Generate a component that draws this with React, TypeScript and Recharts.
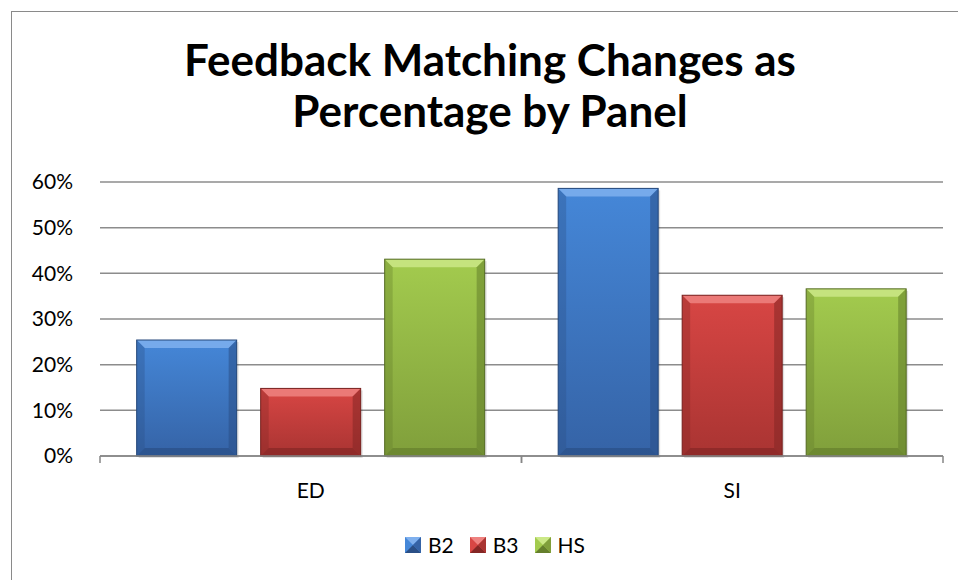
import React from 'react'
import { BarChart, Bar, XAxis, YAxis, CartesianGrid } from 'recharts'

const categories = ['ED', 'SI']
const b2Values = [0.254, 0.586]
const b3Values = [0.148, 0.352]
const hsValues = [0.431, 0.366]
const yTicks = [0, 0.1, 0.2, 0.3, 0.4, 0.5, 0.6]
const seriesNames = ['B2', 'B3', 'HS']

const chartData = categories.map((c, i) => ({
  panel: c,
  B2: b2Values[i],
  B3: b3Values[i],
  HS: hsValues[i],
}))

const palette: Record<string, { top: string; bottom: string; light: string; dark: string; edge: string }> = {
  B2: { top: '#4587d8', bottom: '#3563a6', light: '#7fb0ee', dark: '#2a4f86', edge: '#24477a' },
  B3: { top: '#d84644', bottom: '#a93432', light: '#ee8280', dark: '#842725', edge: '#772220' },
  HS: { top: '#a3cb4e', bottom: '#809f3b', light: '#cbe887', dark: '#657f2c', edge: '#556b25' },
}

const FONT = 'Lato, "Open Sans", sans-serif'

function BevelBar(props: any) {
  const { x, y, width: w, height: h, dataKey } = props
  if (!w || !h || h <= 0) return null
  const c = palette[dataKey]
  const b = Math.min(8, h / 2)
  const id = `g-${dataKey}-${Math.round(x)}`
  return (
    <g>
      <defs>
        <linearGradient id={id} x1="0" y1="0" x2="0" y2="1">
          <stop offset="0%" stopColor={c.top} />
          <stop offset="100%" stopColor={c.bottom} />
        </linearGradient>
      </defs>
      <rect x={x + 2} y={y + 2} width={w} height={h} fill="#000" opacity={0.12} />
      <rect x={x} y={y} width={w} height={h} fill={`url(#${id})`} />
      <polygon points={`${x},${y} ${x + w},${y} ${x + w - b},${y + b} ${x + b},${y + b}`} fill={c.light} opacity={0.85} />
      <polygon points={`${x},${y} ${x + b},${y + b} ${x + b},${y + h - b} ${x},${y + h}`} fill={c.dark} opacity={0.35} />
      <polygon points={`${x + w},${y} ${x + w - b},${y + b} ${x + w - b},${y + h - b} ${x + w},${y + h}`} fill={c.dark} opacity={0.55} />
      <polygon points={`${x},${y + h} ${x + b},${y + h - b} ${x + w - b},${y + h - b} ${x + w},${y + h}`} fill={c.dark} opacity={0.7} />
      <rect x={x} y={y} width={w} height={h} fill="none" stroke={c.edge} strokeWidth={1} />
    </g>
  )
}

function CategoryTick(props: any) {
  const { x, y, payload } = props
  const half = payload && payload.offset ? payload.offset : (958 - 100 - 15) / 4
  return (
    <g>
      <line x1={x - half} y1={y} x2={x - half} y2={y + 7} stroke="#868686" strokeWidth={1.5} />
      <line x1={x + half} y1={y} x2={x + half} y2={y + 7} stroke="#868686" strokeWidth={1.5} />
      <text x={x} y={y + 42} textAnchor="middle" fontSize={21} fontFamily={FONT} fill="#000">
        {payload.value}
      </text>
    </g>
  )
}

function LegendIcon({ name }: { name: string }) {
  const c = palette[name]
  return (
    <svg width={16} height={16} style={{ display: 'block' }}>
      <rect x={0} y={0} width={16} height={16} fill={c.top} />
      <polygon points="0,0 16,0 8,8" fill={c.light} />
      <polygon points="0,16 16,16 8,8" fill={c.dark} />
      <polygon points="16,0 16,16 8,8" fill={c.bottom} />
    </svg>
  )
}

export default function App() {
  return (
    <div style={{ position: 'absolute', left: 0, top: 0, width: 958, height: 580, background: '#fff', overflow: 'hidden' }}>
      <div style={{ position: 'absolute', left: 11, top: 11, width: 1000, height: 1000, border: '1.5px solid #8a8a8a', boxSizing: 'border-box' }} />
      <div
        style={{
          position: 'absolute',
          left: 0,
          top: 34,
          width: 980,
          textAlign: 'center',
          fontFamily: FONT,
          fontWeight: 700,
          fontSize: 44,
          lineHeight: '51px',
          color: '#000',
        }}
      >
        Feedback Matching Changes as
        <br />
        Percentage by Panel
      </div>
      <div style={{ position: 'absolute', left: 0, top: 0 }}>
        <BarChart
          width={958}
          height={580}
          data={chartData}
          margin={{ top: 182, right: 15, bottom: 0, left: 0 }}
          barCategoryGap="8.7%"
          barGap={24}
        >
          <CartesianGrid vertical={false} stroke="#8c8c8c" strokeWidth={1.5} />
          <XAxis
            dataKey="panel"
            axisLine={{ stroke: '#868686', strokeWidth: 1.5 }}
            tickLine={false}
            tickSize={0}
            tickMargin={0}
            tick={<CategoryTick />}
            height={124}
            interval={0}
          />
          <YAxis
            domain={[0, 0.6]}
            ticks={yTicks}
            width={100}
            axisLine={false}
            tickLine={false}
            tickSize={0}
            tickMargin={27}
            tickFormatter={(v: number) => `${Math.round(v * 100)}%`}
            tick={{ fontSize: 21, fontFamily: FONT, fill: '#000' }}
          />
          {seriesNames.map(n => (
            <Bar key={n} dataKey={n} isAnimationActive={false} shape={<BevelBar dataKey={n} />} />
          ))}
        </BarChart>
      </div>
      <div
        style={{
          position: 'absolute',
          left: 405,
          top: 532,
          display: 'flex',
          alignItems: 'center',
          fontFamily: FONT,
          fontSize: 21,
          lineHeight: '26px',
        }}
      >
        {seriesNames.map(n => (
          <div key={n} style={{ display: 'flex', alignItems: 'center', marginRight: 16 }}>
            <LegendIcon name={n} />
            <span style={{ marginLeft: 7 }}>{n}</span>
          </div>
        ))}
      </div>
    </div>
  )
}
